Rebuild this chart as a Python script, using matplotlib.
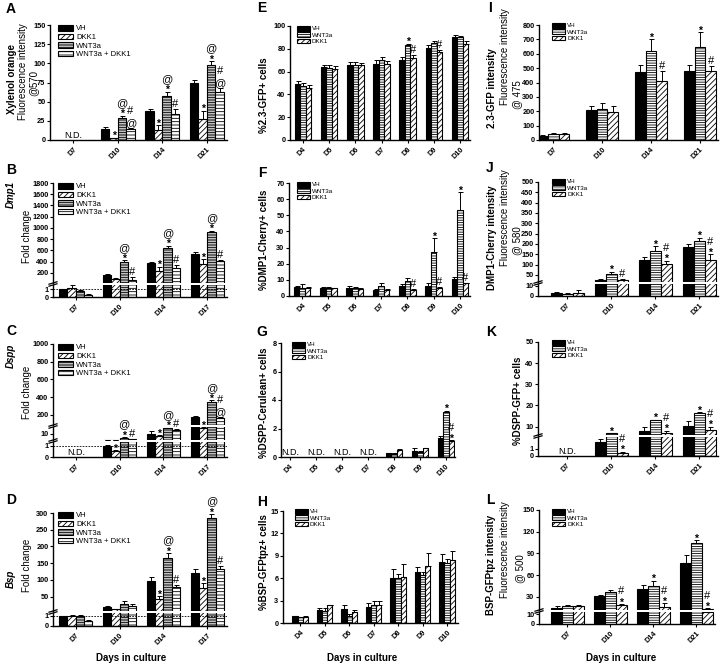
import numpy as np
import matplotlib.pyplot as plt
from matplotlib.lines import Line2D

plt.rcParams['font.family'] = ['Liberation Sans', 'DejaVu Sans']
plt.rcParams['hatch.linewidth'] = 0.6

W, H = 722, 666
fig = plt.figure(figsize=(W / 100, H / 100), dpi=100)
nan = np.nan

# ---------------- data ----------------
days_a = ['D7', 'D10', 'D14', 'D21']
days_b = ['D7', 'D10', 'D14', 'D17']
days_e = ['D4', 'D5', 'D6', 'D7', 'D8', 'D9', 'D10']
lab4 = ['VH', 'DKK1', 'WNT3a', 'WNT3a + DKK1']
lab3 = ['VH', 'WNT3a', 'DKK1']

# A - xylenol orange (VH, DKK1, WNT3a, WNT3a+DKK1)
a_vh, a_vh_sd = [nan, 15, 38, 75], [0, 2, 2.5, 3]
a_dkk, a_dkk_sd = [nan, 2, 13, 28], [0, 1, 6, 10]
a_wnt, a_wnt_sd = [nan, 29, 58, 98], [0, 2.5, 5, 5]
a_wd, a_wd_sd = [nan, 14, 34, 63], [0, 2, 6, 5]
a_marks = [['', '', '', ''], ['', '*', '*', '*'], ['', '*@', '*@', '*@'], ['', '@#', '#', '@#']]

# B - Dmp1 fold change
b_vh, b_vh_sd = [0.95, 160, 370, 535], [0.05, 15, 25, 40]
b_dkk, b_dkk_sd = [1.15, 100, 240, 360], [0.3, 10, 70, 90]
b_wnt, b_wnt_sd = [0.8, 400, 650, 930], [0.1, 25, 35, 25]
b_wd, b_wd_sd = [0.3, 70, 280, 410], [0.05, 60, 60, 15]
b_marks = [['', '', '', ''], ['', '', '*', '*'], ['', '*@', '*@', '*@'], ['', '#', '#', '#']]

# C - Dspp fold change
c_vh, c_vh_sd = [nan, 1.0, 10, 175], [0, 0.05, 4, 8]
c_dkk, c_dkk_sd = [nan, 0.5, 7, 19], [0, 0.1, 1, 1]
c_wnt, c_wnt_sd = [nan, 3.5, 18, 350], [0, 1.5, 1, 15]
c_wd, c_wd_sd = [nan, 2, 16, 170], [0, 0.3, 1, 8]
c_marks = [['', '', '', ''], ['', '*', '*', '*'], ['', '*@', '*@', '*@'], ['', '#', '#', '@#']]

# D - Bsp fold change
d_vh, d_vh_sd = [1.0, 18, 97, 120], [0.02, 3, 11, 13]
d_dkk, d_dkk_sd = [1.0, 12, 42, 75], [0.1, 2, 10, 15]
d_wnt, d_wnt_sd = [1.0, 28, 165, 285], [0.1, 10, 15, 12]
d_wd, d_wd_sd = [0.55, 23, 78, 132], [0.1, 5, 6, 11]
d_marks = [['', '', '', ''], ['', '', '*', '*'], ['', '', '*@', '*@'], ['', '', '#', '#']]

# E - %2.3-GFP+ cells (VH, WNT3a, DKK1)
e_vh, e_vh_sd = [49, 64, 66, 67, 70, 81, 90], [2.5, 2, 2, 3, 3, 2.5, 2]
e_wnt, e_wnt_sd = [47, 63.5, 65.5, 70, 83, 85, 90], [3, 2.5, 3, 2.5, 1.5, 1.5, 1.5]
e_dkk, e_dkk_sd = [46, 62, 66, 67, 72, 77, 84], [2, 2.5, 1.5, 2.5, 2.5, 2, 2.5]
e_marks = [[''] * 7, ['', '', '', '', '*', '', ''], ['', '', '', '', '#', '#', '']]

# F - %DMP1-Cherry+ cells
f_vh, f_vh_sd = [5.5, 5, 5.2, 4, 6.5, 6, 10.5], [1, 0.5, 0.8, 0.5, 1.2, 2, 1.5]
f_wnt, f_wnt_sd = [5.2, 5, 5, 6.5, 9.5, 27, 53], [2, 0.6, 0.5, 1.5, 1.5, 9, 11.5]
f_dkk, f_dkk_sd = [4.8, 4.8, 4.3, 3.8, 4, 5, 7.8], [0.5, 0.4, 0.5, 0.4, 0.5, 0.8, 0.5]
f_marks = [[''] * 7, ['', '', '', '', '', '*', '*'], ['', '', '', '', '#', '#', '#']]

# G - %DSPP-Cerulean+ cells
g_vh, g_vh_sd = [nan, nan, nan, nan, 0.25, 0.45, 1.35], [0, 0, 0, 0, 0.05, 0.15, 0.15]
g_wnt, g_wnt_sd = [nan, nan, nan, nan, 0.2, 0.35, 3.15], [0, 0, 0, 0, 0.05, 0.1, 0.1]
g_dkk, g_dkk_sd = [nan, nan, nan, nan, 0.5, 0.6, 1.1], [0, 0, 0, 0, 0.05, 0.05, 0.07]
g_marks = [[''] * 7, ['', '', '', '', '', '', '*'], ['', '', '', '', '', '', '*#']]

# H - %BSP-GFPtpz+ cells
h_vh, h_vh_sd = [0.9, 1.8, 1.9, 2.2, 6.0, 6.8, 8.2], [0.1, 0.15, 0.5, 0.5, 1.2, 0.7, 1.1]
h_wnt, h_wnt_sd = [0.75, 1.65, 1.0, 2.45, 6.0, 6.4, 8.1], [0.1, 0.35, 0.2, 0.55, 0.5, 0.4, 0.5]
h_dkk, h_dkk_sd = [0.85, 2.35, 1.45, 2.45, 6.2, 7.6, 8.5], [0.05, 0.1, 0.25, 0.45, 1.7, 1.8, 1.1]
h_marks = [[''] * 7, [''] * 7, [''] * 7]

# I - 2.3-GFP intensity
i_vh, i_vh_sd = [30, 210, 475, 480], [5, 25, 45, 45]
i_wnt, i_wnt_sd = [40, 215, 622, 645], [10, 45, 78, 103]
i_dkk, i_dkk_sd = [42, 198, 410, 480], [6, 37, 68, 38]
i_marks = [[''] * 4, ['', '', '*', '*'], ['', '', '#', '#']]

# J - DMP1-Cherry intensity
j_vh, j_vh_sd = [3.3, 28, 123, 185], [0.5, 2, 14, 14]
j_wnt, j_wnt_sd = [2.5, 55, 167, 215], [0.5, 11, 23, 16]
j_dkk, j_dkk_sd = [3.5, 28, 103, 122], [2.5, 3, 16, 28]
j_marks = [[''] * 4, ['', '*', '*', '*'], ['', '#', '*#', '*#']]

# K - %DSPP-GFP+ cells
k_vh, k_vh_sd = [nan, 2.0, 8.0, 10.3], [0, 0.4, 1.7, 2.1]
k_wnt, k_wnt_sd = [nan, 6.9, 13.1, 16.6], [0, 0.1, 0.2, 0.3]
k_dkk, k_dkk_sd = [nan, 0.4, 6.9, 8.4], [0, 0.2, 1.1, 1.5]
k_marks = [[''] * 4, ['', '*', '*', '*'], ['', '*#', '*#', '*#']]

# L - BSP-GFPtpz intensity
l_vh, l_vh_sd = [15, 31, 40, 76], [2, 2, 6, 12]
l_wnt, l_wnt_sd = [17, 36, 45, 105], [1, 3, 7, 3]
l_dkk, l_dkk_sd = [16.5, 18, 16, 12.5], [2.5, 2, 5, 1.5]
l_marks = [[''] * 4, ['', '', '*', '*'], ['', '*#', '*#', '*#']]

# bar looks
st4 = [('black', None), ('white', '//////'), ('white', '-' * 10), ('white', '-----')]
st3 = [('black', None), ('white', '-------'), ('white', '//////')]


def px(x0, top, x1, bot):
    return [x0 / W, 1 - bot / H, (x1 - x0) / W, (bot - top) / H]


def panel(x0, x1, segs, days, vals, sds, styles, marks, labels, xlim, width,
          leg, leg_fs, nd=(), dashed=False):
    axes = []
    for k, (lo, hi, top, bot, ticks) in enumerate(segs):
        ax = fig.add_axes(px(x0, top, x1, bot))
        ax.patch.set_alpha(0)
        ax.set_ylim(lo, hi)
        ax.set_xlim(*xlim)
        ax.set_yticks(list(ticks))
        ax.spines[['top', 'right']].set_visible(False)
        for s in ax.spines.values():
            s.set_linewidth(1.0)
        ax.tick_params(axis='y', length=2.5, width=0.8, labelsize=5.3, pad=0.8)
        for t in ax.get_yticklabels():
            t.set_fontweight('bold')
        if k == 0:
            ax.set_xticks(np.arange(len(days)))
            ax.set_xticklabels(days, rotation=45, ha='right', rotation_mode='anchor',
                               fontsize=5.3, fontweight='bold')
            ax.tick_params(axis='x', length=2.5, width=0.8, pad=2)
        else:
            ax.spines['bottom'].set_visible(False)
            ax.set_xticks([])
        axes.append(ax)

    x = np.arange(len(days))
    n = len(vals)
    handles = []
    for i in range(n):
        pos = x + (i - (n - 1) / 2) * width
        fc, hatch = styles[i]
        v = np.array(vals[i], dtype=float)
        sd = np.array(sds[i], dtype=float)
        for ax in axes:
            b = ax.bar(pos, v, width, color=fc, edgecolor='black', hatch=hatch, linewidth=0.8)
            ax.errorbar(pos, v, yerr=[np.zeros(len(x)), sd], fmt='none', ecolor='black',
                        elinewidth=0.7, capsize=1.8, capthick=0.7)
        handles.append(b)
        # significance marks, stacked from the bar upward
        for j, m in enumerate(marks[i]):
            if not m:
                continue
            top = v[j] + sd[j]
            ax_m = axes[0]
            for k, seg in enumerate(segs):
                if top >= seg[0]:
                    ax_m = axes[k]
            off = 0.0
            for ch in m:
                if ch == '*':
                    ax_m.annotate(ch, (pos[j], top), xytext=(0, off - 2.5), textcoords='offset points',
                                  ha='center', va='bottom', fontsize=7.5, fontweight='bold',
                                  annotation_clip=False, zorder=5)
                    off += 5.5
                else:
                    ax_m.annotate(ch, (pos[j], top), xytext=(0, off), textcoords='offset points',
                                  ha='center', va='bottom', fontsize=8, annotation_clip=False,
                                  zorder=5)
                    off += 8.5

    for j in nd:
        axes[0].text(j, 0, 'N.D.', ha='center', va='bottom', fontsize=6.5,
                     transform=axes[0].transData)

    if dashed:
        axes[0].axhline(1, ls='--', lw=0.6, color='black', dashes=(2, 1.5))

    # axis break marks
    for k in range(len(segs) - 1):
        for yb in (segs[k][2], segs[k + 1][3]):
            fig.add_artist(Line2D([(x0 - 4) / W, (x0 + 4) / W],
                                  [1 - (yb + 1.2) / H, 1 - (yb - 1.2) / H],
                                  color='black', lw=0.9, transform=fig.transFigure))

    axes[-1].legend(handles, labels, loc='upper left',
                    bbox_to_anchor=(leg[0] / W, 1 - leg[1] / H), bbox_transform=fig.transFigure,
                    frameon=False, fontsize=leg_fs, handlelength=2.0, handleheight=0.75,
                    handletextpad=0.4, labelspacing=0.15, borderpad=0, borderaxespad=0)
    return axes


xl4 = (-0.52, 3.45)
# left column
panel(50, 227, [(0, 150, 25, 140, range(0, 151, 25))], days_a,
      [a_vh, a_dkk, a_wnt, a_wd], [a_vh_sd, a_dkk_sd, a_wnt_sd, a_wd_sd], st4, a_marks, lab4,
      xl4, 0.19, (58, 25), 5.5, nd=[0])
panel(53, 227, [(0, 1.5, 285, 297, [0, 1]), (22, 1800, 183, 283, range(200, 1801, 200))], days_b,
      [b_vh, b_dkk, b_wnt, b_wd], [b_vh_sd, b_dkk_sd, b_wnt_sd, b_wd_sd], st4, b_marks, lab4,
      xl4, 0.19, (58, 183), 5.5, dashed=True)
panel(53, 227, [(0, 1.35, 442, 457, [0, 1]), (1, 20, 427, 440, [10]),
                (86, 1000, 344, 425, range(200, 1001, 200))], days_b,
      [c_vh, c_dkk, c_wnt, c_wd], [c_vh_sd, c_dkk_sd, c_wnt_sd, c_wd_sd], st4, c_marks, lab4,
      xl4, 0.19, (58, 344), 5.5, nd=[0], dashed=True)
panel(53, 227, [(0, 1.3, 613, 626, [0, 1]), (7, 300, 513, 611, range(50, 301, 50))], days_b,
      [d_vh, d_dkk, d_wnt, d_wd], [d_vh_sd, d_dkk_sd, d_wnt_sd, d_wd_sd], st4, d_marks, lab4,
      xl4, 0.19, (58, 512), 5.5, dashed=True)

# middle column
panel(290, 470, [(0, 100, 26, 140, range(0, 101, 20))], days_e,
      [e_vh, e_wnt, e_dkk], [e_vh_sd, e_wnt_sd, e_dkk_sd], st3, e_marks, lab3,
      (-0.5, 6.38), 0.21, (297, 26), 4.5)
panel(289, 470, [(0, 70, 183, 296, range(0, 71, 10))], days_e,
      [f_vh, f_wnt, f_dkk], [f_vh_sd, f_wnt_sd, f_dkk_sd], st3, f_marks, lab3,
      (-0.5, 6.38), 0.21, (297, 182), 4.5)
panel(281, 455, [(0, 8, 343, 457, [0, 2, 4, 6, 8])], days_e,
      [g_vh, g_wnt, g_dkk], [g_vh_sd, g_wnt_sd, g_dkk_sd], st3, g_marks, lab3,
      (-0.35, 6.35), 0.21, (292, 342), 4.5, nd=[0, 1, 2, 3])
panel(283, 458, [(0, 15, 511, 623, range(0, 16, 3))], days_e,
      [h_vh, h_wnt, h_dkk], [h_vh_sd, h_wnt_sd, h_dkk_sd], st3, h_marks, lab3,
      (-0.7, 6.45), 0.21, (295, 509), 4.5)

# right column
panel(539, 718, [(0, 800, 25, 140, range(0, 801, 100))], days_a,
      [i_vh, i_wnt, i_dkk], [i_vh_sd, i_wnt_sd, i_dkk_sd], st3, i_marks, lab3,
      (-0.29, 3.37), 0.22, (552, 23), 4.5)
panel(538, 718, [(0, 12, 284, 296, [0, 10]), (16, 500, 182, 282, range(50, 501, 50))], days_a,
      [j_vh, j_wnt, j_dkk], [j_vh_sd, j_wnt_sd, j_dkk_sd], st3, j_marks, lab3,
      (-0.66, 3.43), 0.25, (552, 179), 4.5)
panel(538, 718, [(0, 2.7, 437, 456, [0, 1]), (6, 50, 342, 435, range(10, 51, 10))], days_a,
      [k_vh, k_wnt, k_dkk], [k_vh_sd, k_wnt_sd, k_dkk_sd], st3, k_marks, lab3,
      (-0.66, 3.43), 0.25, (552, 340), 4.5, nd=[0])
panel(539, 715, [(0, 12.4, 612, 624, [0, 10]), (11.6, 150, 510, 610, range(30, 151, 30))], days_a,
      [l_vh, l_wnt, l_dkk], [l_vh_sd, l_wnt_sd, l_dkk_sd], st3, l_marks, lab3,
      (-0.66, 3.43), 0.25, (552, 509), 4.5)

# y axis titles (text, x px, y px, weight, style)
ytitles = [
    ('Xylenol orange', 12, 79, 'bold', 'normal'),
    ('Fluorescence intensity', 23, 72, 'normal', 'normal'),
    ('@570', 33, 83, 'normal', 'normal'),
    ('Dmp1', 11, 195, 'bold', 'italic'),
    ('Fold change', 27, 236, 'normal', 'normal'),
    ('Dspp', 11, 356, 'bold', 'italic'),
    ('Fold change', 27, 392, 'normal', 'normal'),
    ('Bsp', 11, 579, 'bold', 'italic'),
    ('Fold change', 27, 565, 'normal', 'normal'),
    ('%2.3-GFP+ cells', 264, 95, 'bold', 'normal'),
    ('%DMP1-Cherry+ cells', 264, 240, 'bold', 'normal'),
    ('%DSPP-Cerulean+ cells', 264, 403, 'bold', 'normal'),
    ('%BSP-GFPtpz+ cells', 264, 562, 'bold', 'normal'),
    ('2.3-GFP intensity', 492, 88, 'bold', 'normal'),
    ('Fluorescence intensity', 505, 57, 'normal', 'normal'),
    ('@ 475', 517, 95, 'normal', 'normal'),
    ('DMP1-Cherry intensity', 492, 238, 'bold', 'normal'),
    ('Fluorescence intensity', 505, 218, 'normal', 'normal'),
    ('@ 580', 517, 241, 'normal', 'normal'),
    ('%DSPP-GFP+ cells', 518, 401, 'bold', 'normal'),
    ('BSP-GFPtpz intensity', 491, 565, 'bold', 'normal'),
    ('Fluorescence intensity', 505, 550, 'normal', 'normal'),
    ('@ 500', 520, 569, 'normal', 'normal'),
]
for txt, xx, yy, wt, sty in ytitles:
    fig.text(xx / W, 1 - yy / H, txt, rotation=90, ha='center', va='center',
             fontsize=7, fontweight=wt, fontstyle=sty)

letters = [('A', 11, 9), ('B', 11, 170), ('C', 11, 331), ('D', 11, 500),
           ('E', 262, 8), ('F', 262, 173), ('G', 262, 332), ('H', 262, 502),
           ('I', 490, 8), ('J', 490, 168), ('K', 491, 332), ('L', 490, 500)]
for t, xx, yy in letters:
    fig.text(xx / W, 1 - yy / H, t, ha='center', va='center', fontsize=10, fontweight='bold')

for xx in (131, 362, 621):
    fig.text(xx / W, 1 - 658 / H, 'Days in culture', ha='center', va='center',
             fontsize=7, fontweight='bold')

fig.savefig('out.png', dpi=100)
